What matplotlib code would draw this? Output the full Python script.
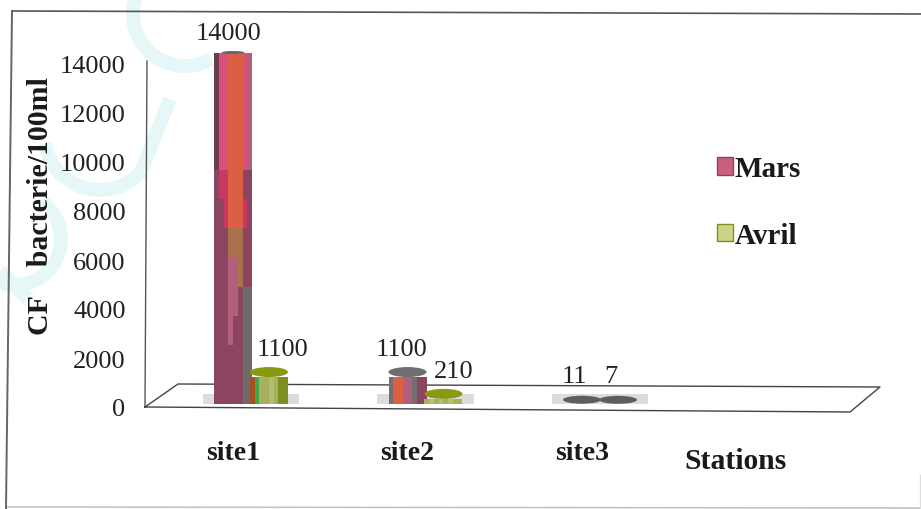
import numpy as np
import matplotlib
matplotlib.use('Agg')
import matplotlib.pyplot as plt
from matplotlib.patches import Arc, Ellipse, Rectangle
from matplotlib.transforms import Affine2D

# valeurs
sites = ['site1', 'site2', 'site3']
mars = [14000, 1100, 11]
avril = [1100, 210, 7]
y_ticks = [0, 2000, 4000, 6000, 8000, 10000, 12000, 14000]

W, H = 921, 510
BAR_W = 0.218
BAR_OFF = 0.103
CAP_PX = 10
PX_PER_UNIT = 343 / 14000

plt.rcParams['font.family'] = ['Liberation Serif', 'DejaVu Serif']

fig = plt.figure(figsize=(W / 100, H / 100), dpi=100, facecolor='white')

# calque de fond en pixels : filigrane, cadre, plancher
bg = fig.add_axes([0, 0, 1, 1])
bg.set_xlim(0, W)
bg.set_ylim(H, 0)
bg.axis('off')

mark = dict(color='#e6f7f7', lw=10, zorder=0)
bg.add_patch(Arc((15, 240), 92, 92, theta1=-55, theta2=110, **mark))
bg.add_patch(Arc((100, 135), 112, 112, theta1=40, theta2=170, **mark))
bg.plot([142, 170], [170, 100], solid_capstyle='butt', **mark)
bg.add_patch(Arc((185, 15), 104, 104, theta1=60, theta2=200, **mark))
bg.plot([0, 28], [272, 300], solid_capstyle='butt', **mark)

bg.plot([12, 921], [12, 15], color='#555555', lw=1.2)
bg.plot([12, 6], [12, 510], color='#666666', lw=1.4)
bg.plot([8, 921], [508, 509], color='#c4c4c4', lw=1.2)
bg.plot([920, 920], [476, 510], color='#dddddd', lw=1)

bg.plot([147, 145], [62, 408], color='#555555', lw=1)
bg.plot([145, 178, 880, 850, 145], [408, 385, 388, 413, 408], color='#444444', lw=1)

bg.text(735, 462, 'Stations', fontsize=21.3, fontweight='bold', color='#1a1a1a', ha='center', va='center')
bg.text(41, 206, 'CF    bacterie/100ml', fontsize=21.5, fontweight='bold', color='#1a1a1a',
        rotation=90, ha='center', va='center')

# axes des barres : 0 -> y=408 px, 14000 -> y=65 px
left, right, top, bottom = 145, 870, 65, 408
ax = fig.add_axes([left / W, 1 - bottom / H, (right - left) / W, (bottom - top) / H])
ax.patch.set_alpha(0)
for s in ax.spines.values():
    s.set_visible(False)
x_sites = np.arange(len(sites))

# les barres sont posees un peu au-dessus du bord avant du plancher
lift = ax.transData + Affine2D().translate(0, 3)

DK, PK, OR, MA, CR, BR, MV, GR = ('#6a3d50', '#d8517a', '#dc5f45', '#8c4560',
                                  '#c9385f', '#a8734a', '#b0607a', '#6e6a6a')


def body_colors(value, serie):
    # lignes de haut en bas, colonnes de gauche a droite
    if serie == 'mars' and value > 5000:
        upper = [DK, PK, PK, OR, OR, OR, PK, MV]
        return [upper, upper, upper, upper,
                [MA, CR, CR, OR, OR, OR, MA, MA],
                [MA, MA, CR, OR, OR, OR, CR, MA],
                [MA, MA, MA, BR, BR, BR, MA, MA],
                [MA, MA, MA, MV, MV, BR, MA, MA],
                [MA, MA, MA, MV, MV, MA, GR, GR],
                [MA, MA, MA, MV, MA, MA, GR, GR],
                [MA, MA, MA, MA, MA, MA, GR, GR],
                [MA, MA, MA, MA, MA, MA, GR, GR]]
    if serie == 'mars' and value > 100:
        return [['#707070', OR, OR, MV, MV, '#707070', MA, MA]]
    if serie == 'avril' and value > 500:
        return [['#a5501f', '#3fa84a', '#a8b060', '#a8b060', '#b4bc70', '#a8b060', '#7d8f20', '#7d8f20']]
    if serie == 'avril' and value > 100:
        return [['#a8b060', '#b8c070', '#a8b060', '#b8c070', '#a8b060', '#b8c070', '#a8b060', '#a8b060']]
    return [['#6a6a6a'] * 8]


def draw_body(x, height, rows):
    n_rows, n_cols = len(rows), len(rows[0])
    cell_w = BAR_W / n_cols
    cell_h = height / n_rows
    for i, row in enumerate(rows):
        for j, c in enumerate(row):
            ax.bar(x - BAR_W / 2 + j * cell_w, cell_h, width=cell_w, bottom=height - (i + 1) * cell_h,
                   align='edge', color=c, lw=0, antialiased=False, transform=lift, zorder=4, clip_on=False)


def draw_bars(values, offset, serie, label_dx):
    positions = x_sites + offset
    cap_h = CAP_PX / PX_PER_UNIT
    for x, v, dx in zip(positions, values, label_dx):
        # ombre au pied de la barre
        ax.add_patch(Rectangle((x - BAR_W * 0.8, 0), BAR_W * 1.6, cap_h, color='#dcdcdc', lw=0,
                               transform=lift, zorder=2, clip_on=False))
        rows = body_colors(v, serie)
        if v > 5000:
            # haut plat : seul un petit liseré sombre reste visible
            draw_body(x, v + cap_h * 0.85, rows)
            cap = Ellipse((x, v + cap_h * 0.85), BAR_W * 0.6, cap_h * 0.3, fc='#666666', lw=0)
        else:
            draw_body(x, v, rows)
            if v < 100:
                cap = Ellipse((x, v + cap_h * 0.4), BAR_W, cap_h * 0.8, fc='#5e5e5e', lw=0)
            elif serie == 'mars':
                cap = Ellipse((x, v + cap_h / 2), BAR_W, cap_h, fc='#6e6e6e', lw=0)
            else:
                cap = Ellipse((x, v + cap_h / 2), BAR_W, cap_h, fc='#8a9a10', lw=0)
        cap.set_transform(lift)
        cap.set_zorder(5)
        cap.set_clip_on(False)
        ax.add_patch(cap)
        ax.annotate(str(v), xy=(x, v), xycoords=lift, xytext=(dx * 0.72, 28 * 0.72),
                    textcoords='offset points', ha='center', va='center', fontsize=19,
                    color='#222222', zorder=6)


draw_bars(mars, -BAR_OFF, 'mars', [-4, -6, -8])
draw_bars(avril, BAR_OFF, 'avril', [14, 10, -7])

ax.set_xlim((left - 251) / 174.5, (right - 251) / 174.5)
ax.set_ylim(0, 14000)
ax.set_yticks(y_ticks)
ax.set_yticklabels([str(t) for t in y_ticks], fontsize=19, color='#222222')
ax.tick_params(axis='y', length=0, pad=14)
ax.set_xticks(x_sites - BAR_OFF)
ax.set_xticklabels(sites, fontsize=20, fontweight='bold', color='#1a1a1a')
ax.tick_params(axis='x', length=0, pad=24)

handles = [Rectangle((0, 0), 1, 1, fc='#c9607e', ec='#8c4560', lw=1),
           Rectangle((0, 0), 1, 1, fc='#cdd488', ec='#7d8f20', lw=1)]
leg = fig.legend(handles, ['Mars', 'Avril'], frameon=False, loc='center left',
                 bbox_to_anchor=(717 / W, 1 - 203 / H),
                 prop={'size': 21, 'weight': 'bold'}, labelspacing=1.35, handlelength=0.55,
                 handleheight=0.55, handletextpad=0.05, borderpad=0, borderaxespad=0)
for t in leg.get_texts():
    t.set_color('#1a1a1a')

fig.savefig('out.png', dpi=100)
